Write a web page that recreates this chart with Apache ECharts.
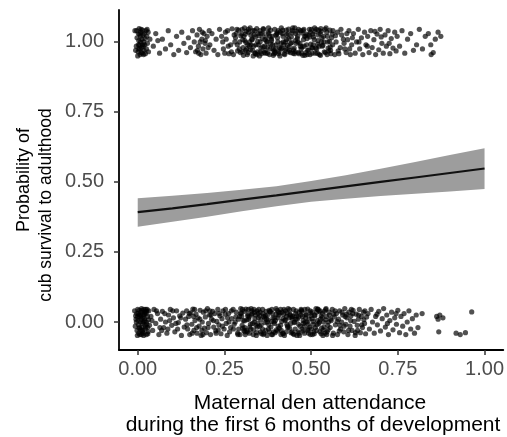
<!DOCTYPE html>
<html>
<head>
<meta charset="utf-8">
<script src="https://cdn.jsdelivr.net/npm/echarts@6/dist/echarts.min.js"></script>
<style>
  html, body { margin: 0; padding: 0; background: #fff; }
  #chart { width: 507px; height: 437px; }
</style>
</head>
<body>
<div id="chart"></div>
<script>
// Cubs that survived to adulthood (outcome = 1), jittered vertically: [attendance, jittered outcome]
const survived = [
  [-0.008,1.04],[0.002,1.03],[0.005,0.99],[0.001,0.965],[0.010,1.045],[0.012,1.01],[-0.004,0.985],[0.007,0.955],[0.015,1.025],[0.003,1.005],
  [0.018,0.97],[0.009,1.035],[-0.002,1.015],[0.020,0.99],[0.006,0.975],[0.013,0.96],[0.024,1.04],[0.000,0.95],[0.017,1.0],[0.011,0.98],
  [0.026,1.02],[0.004,1.048],[0.022,0.958],[0.028,0.995],[0.014,1.042],[-0.006,0.97],[0.008,1.02],[0.031,0.965],[0.019,1.03],[0.002,0.99],
  [0.035,1.01],[0.025,0.975],[0.010,0.962],[0.016,0.985],[0.030,1.035],
  [0.003,0.975],[0.008,1.0],[0.014,0.99],[0.021,1.012],[-0.003,1.04],[0.017,0.955],[0.027,1.045],[0.006,1.028],
  [0.045,0.985],[0.052,1.03],[0.063,0.96],[0.071,1.01],[0.080,0.975],[0.088,1.04],[0.095,0.99],[0.104,0.955],[0.112,1.02],[0.118,0.97],
  [0.127,1.035],[0.133,0.995],[0.141,0.962],[0.146,1.015],[0.058,1.005],
  [0.152,0.98],[0.158,1.04],[0.163,1.0],[0.167,0.965],[0.171,1.025],[0.175,0.985],[0.178,1.045],[0.182,0.955],[0.185,1.01],[0.188,0.975],
  [0.191,1.03],[0.194,0.995],[0.197,0.96],[0.200,1.02],[0.203,0.98],[0.206,1.04],[0.180,1.0],[0.172,0.97],[0.195,1.005],[0.186,1.035],
  [0.176,0.96],[0.208,0.99],
  [0.214,1.03],[0.220,0.97],[0.226,1.01],[0.231,0.955],[0.236,1.045],
  [0.242,1.02],[0.251,0.96],[0.259,1.04],[0.268,0.99],[0.276,0.955],[0.284,1.03],[0.293,0.975],[0.301,1.045],[0.309,1.005],[0.318,0.962],
  [0.326,1.025],[0.334,0.985],[0.343,1.048],[0.351,0.95],[0.359,1.012],[0.368,0.97],[0.376,1.035],[0.384,0.992],[0.393,0.958],[0.401,1.028],
  [0.409,0.98],[0.418,1.042],[0.426,1.0],[0.434,0.965],[0.443,1.018],[0.451,0.978],[0.459,1.038],[0.468,0.995],[0.476,0.952],[0.484,1.022],
  [0.493,0.972],[0.501,1.045],[0.509,1.008],[0.518,0.96],[0.526,1.03],[0.534,0.988],[0.543,1.05],[0.551,0.968],[0.559,1.015],[0.568,0.955],
  [0.576,1.035],[0.584,0.98],[0.593,1.01],[0.601,0.962],[0.609,1.04],[0.617,0.99],
  [0.247,0.975],[0.255,1.01],[0.263,0.958],[0.272,1.047],[0.280,1.0],[0.288,0.968],[0.297,1.022],[0.305,0.952],[0.313,1.038],[0.322,0.985],
  [0.330,1.008],[0.338,0.96],[0.347,1.03],[0.355,0.978],[0.363,1.045],[0.372,1.002],[0.380,0.955],[0.388,1.02],[0.397,0.975],[0.405,1.04],
  [0.413,0.995],[0.422,0.958],[0.430,1.025],[0.438,0.97],[0.447,1.05],[0.455,1.005],[0.463,0.962],[0.472,1.032],[0.480,0.985],[0.488,1.012],
  [0.497,0.955],[0.505,1.028],[0.513,0.978],[0.522,1.042],[0.530,1.0],[0.538,0.965],[0.547,1.02],[0.555,0.982],[0.563,1.04],[0.572,1.0],
  [0.580,0.958],[0.588,1.025],[0.597,0.975],[0.605,1.008],[0.613,0.955],
  [0.282,1.015],[0.287,0.99],[0.291,1.042],[0.296,0.962],[0.300,1.028],[0.304,0.98],[0.308,1.05],[0.312,0.998],[0.316,0.955],[0.320,1.035],
  [0.325,0.972],[0.329,1.01],[0.333,0.95],[0.337,1.04],[0.341,0.99],[0.345,0.965],[0.349,1.022],[0.353,1.0],[0.357,0.958],[0.362,1.048],
  [0.366,0.985],[0.370,1.018],[0.374,0.96],[0.378,1.03],[0.382,0.975],[0.386,1.005],[0.391,0.952],[0.395,1.045],[0.399,0.99],[0.403,1.015],
  [0.407,0.965],[0.411,1.035],[0.415,0.978],[0.420,1.0],[0.424,0.955],[0.428,1.042],[0.432,0.988],[0.436,1.012],[0.440,0.962],[0.445,1.032],
  [0.449,0.972],[0.453,1.05],[0.457,0.995],[0.461,1.02],[0.465,0.958],[0.470,1.04],[0.474,0.982],[0.478,1.008],[0.482,0.952],[0.486,1.028],
  [0.490,0.97],[0.495,1.045],[0.499,0.992],[0.503,0.96],[0.507,1.018],[0.511,1.036],[0.516,0.975],[0.520,1.005],[0.524,0.955],[0.528,1.048],
  [0.532,0.985],[0.536,1.02],[0.541,0.962],[0.545,1.035],[0.549,0.978],[0.553,1.002],[0.557,0.958],[0.561,1.028],
  [0.303,1.008],[0.311,0.97],[0.319,1.045],[0.327,0.99],[0.335,1.025],[0.344,0.955],[0.352,1.04],[0.361,0.982],[0.369,0.96],[0.377,1.05],
  [0.385,1.01],[0.394,0.968],[0.402,1.032],[0.410,0.95],[0.419,1.02],[0.427,0.975],[0.435,1.046],[0.444,0.998],[0.452,0.958],[0.460,1.012],
  [0.469,0.985],[0.477,1.04],[0.485,0.962],[0.494,1.025],[0.502,0.98],[0.510,1.05],[0.519,0.992],[0.527,0.952],
  [0.245,1.0],[0.253,1.035],[0.261,0.985],[0.270,0.965],[0.278,1.025],[0.286,1.045],[0.294,1.0],[0.302,0.965],[0.310,1.028],[0.317,0.99],
  [0.324,1.05],[0.331,0.97],[0.339,1.018],[0.346,1.002],[0.354,0.965],[0.361,1.03],[0.367,1.008],[0.375,0.982],[0.383,1.042],[0.390,0.975],
  [0.398,1.025],[0.406,0.958],[0.414,1.05],[0.421,0.99],[0.429,1.008],[0.437,0.982],[0.446,1.04],[0.454,0.965],[0.462,1.0],[0.471,0.975],
  [0.479,1.045],[0.487,0.99],[0.496,1.018],[0.504,0.978],[0.512,0.96],[0.521,1.025],[0.529,1.038],[0.537,1.0],[0.546,0.955],[0.554,1.042],
  [0.562,0.99],[0.570,1.022],[0.578,0.968],[0.586,1.045],[0.595,0.995],[0.603,1.03],[0.611,0.975],[0.619,1.015],
  [0.306,1.02],[0.314,0.975],[0.323,1.0],[0.332,1.04],[0.340,0.958],[0.348,0.99],[0.356,1.03],[0.365,0.962],[0.373,1.0],[0.381,1.02],
  [0.389,0.99],[0.396,0.962],[0.404,1.0],[0.412,0.975],[0.417,1.03],[0.425,0.97],[0.433,1.03],[0.441,0.995],[0.448,0.96],[0.456,1.03],
  [0.464,1.045],[0.473,0.96],[0.481,1.02],[0.489,0.955],[0.498,1.035],[0.506,0.99],[0.515,1.045],[0.523,0.985],[0.531,1.015],[0.540,1.045],
  [0.548,1.0],[0.556,0.97],
  [0.622,1.03],[0.627,0.96],[0.631,1.0],[0.636,1.045],[0.640,0.975],[0.645,1.015],[0.649,0.955],[0.654,1.035],[0.658,0.99],[0.663,1.02],
  [0.667,0.962],[0.672,1.04],[0.676,0.98],[0.681,1.008],[0.686,0.955],[0.690,1.028],[0.695,0.972],[0.699,1.045],[0.704,0.995],[0.708,0.96],
  [0.713,1.025],[0.717,0.985],[0.722,1.04],[0.727,0.958],[0.731,1.012],[0.736,0.978],[0.741,1.035],[0.745,0.968],[0.638,1.0],[0.662,0.985],
  [0.684,1.038],[0.702,1.018],[0.725,0.995],[0.748,1.02],
  [0.755,0.985],[0.762,1.04],[0.770,0.96],[0.778,1.01],[0.787,1.03],[0.795,0.97],[0.804,0.99],[0.812,1.045],[0.821,0.975],[0.829,1.02],
  [0.838,1.03],[0.845,0.99],[0.852,0.962],[0.858,1.01],[0.866,1.035],[0.874,1.02],[0.846,0.955]
];

// Cubs that did not survive (outcome = 0), jittered vertically
const died = [
  [-0.009,0.04],[-0.005,0.01],[-0.002,-0.03],[0.000,0.045],[0.002,-0.01],[0.004,0.025],[0.006,-0.045],[0.008,0.0],[0.010,0.035],[0.012,-0.02],
  [0.014,0.015],[0.016,-0.04],[0.018,0.045],[0.020,0.005],[0.022,-0.025],[0.024,0.03],[0.026,-0.008],[0.028,0.02],[0.030,-0.035],[0.032,0.04],
  [-0.007,-0.015],[-0.003,0.03],[0.001,0.005],[0.003,-0.04],[0.005,0.042],[0.007,0.018],[0.009,-0.028],[0.011,0.048],[0.013,-0.005],[0.015,0.028],
  [0.017,-0.048],[0.019,0.012],[0.021,0.038],[0.023,-0.018],[0.025,0.0],[0.027,0.045],[0.029,-0.042],[0.031,0.008],[0.034,-0.012],[-0.006,0.022],
  [-0.001,-0.048],[0.004,-0.022],[0.010,0.01],[0.015,-0.03],[0.020,0.032],[0.025,-0.045],[0.000,0.018],[0.012,0.042],
  [0.002,0.03],[0.006,-0.02],[0.011,-0.045],[0.016,0.0],[0.021,-0.01],[0.026,0.038],[-0.004,0.0],[0.008,0.025],[0.013,-0.035],[0.018,0.025],
  [0.023,0.045],[0.029,-0.02],
  [0.038,0.02],[0.043,-0.03],[0.047,0.045],[0.052,-0.005],[0.057,0.03],[0.061,-0.045],[0.066,0.01],[0.071,0.038],[0.075,-0.02],[0.080,0.0],
  [0.084,-0.04],[0.089,0.025],[0.094,0.045],[0.098,-0.012],[0.103,0.015],[0.107,-0.035],[0.112,0.04],[0.117,-0.002],[0.121,0.022],[0.126,-0.048],
  [0.130,0.032],[0.134,-0.018],[0.069,-0.03],[0.092,0.005],[0.115,-0.025],
  [0.041,0.005],[0.054,0.04],[0.064,-0.02],[0.078,0.03],[0.087,-0.025],[0.101,0.04],[0.110,-0.005],[0.124,0.015],
  [0.138,0.01],[0.141,0.04],[0.144,-0.025],[0.147,0.02],[0.150,-0.045],[0.153,0.033],[0.156,-0.008],[0.159,0.046],[0.162,-0.03],[0.165,0.005],
  [0.168,0.028],[0.171,-0.04],[0.174,0.015],[0.177,-0.015],[0.180,0.042],[0.183,-0.048],[0.186,0.0],[0.189,0.035],[0.192,-0.022],[0.195,0.018],
  [0.198,-0.038],[0.201,0.048],[0.204,-0.005],[0.207,0.025],[0.210,-0.045],[0.213,0.01],[0.216,0.038],[0.219,-0.018],[0.222,0.03],[0.225,-0.032],
  [0.228,0.002],[0.231,0.045],[0.234,-0.01],[0.237,0.022],[0.240,-0.042],[0.243,0.012],[0.246,0.04],[0.249,-0.025],[0.252,0.028],[0.255,-0.005],
  [0.258,-0.048],[0.161,0.02],[0.185,-0.03],[0.208,0.04],[0.232,-0.028],
  [0.142,-0.01],[0.149,0.03],[0.157,-0.04],[0.164,0.045],[0.170,-0.02],[0.179,0.01],[0.188,-0.045],[0.196,0.04],[0.203,-0.02],[0.211,0.025],
  [0.218,0.005],[0.226,-0.04],[0.235,0.03],[0.244,-0.015],[0.253,0.045],[0.259,0.015],
  [0.262,0.03],[0.268,-0.02],[0.275,0.045],[0.281,0.0],[0.288,-0.04],[0.294,0.02],[0.301,-0.012],[0.307,0.038],[0.314,-0.03],[0.320,0.01],
  [0.327,0.048],[0.333,-0.045],[0.340,0.025],[0.346,-0.005],[0.353,0.035],[0.360,-0.025],[0.366,0.015],[0.373,-0.048],[0.379,0.042],[0.386,0.002],
  [0.392,-0.035],[0.399,0.028],[0.405,-0.015],[0.412,0.045],[0.418,-0.04],[0.425,0.008],[0.431,0.032],[0.438,-0.022],[0.444,0.018],[0.451,-0.045],
  [0.457,0.04],[0.464,-0.008],[0.470,0.025],[0.477,-0.032],[0.483,0.0],[0.490,0.046],[0.496,-0.018],[0.503,0.012],[0.509,-0.042],[0.516,0.035],
  [0.522,-0.005],[0.529,0.022],[0.535,-0.028],[0.542,0.044],[0.548,-0.012],
  [0.265,-0.035],[0.271,0.012],[0.278,-0.008],[0.284,0.035],[0.291,-0.025],[0.297,0.048],[0.304,0.005],[0.310,-0.045],[0.317,0.022],[0.323,-0.018],
  [0.330,0.03],[0.336,0.0],[0.343,-0.038],[0.349,0.045],[0.356,-0.01],[0.363,0.02],[0.369,-0.03],[0.376,0.008],[0.382,0.036],[0.389,-0.045],
  [0.395,0.015],[0.402,0.042],[0.408,-0.022],[0.415,0.002],[0.421,0.028],[0.428,-0.035],[0.434,0.048],[0.441,-0.005],[0.447,0.02],[0.454,-0.025],
  [0.460,0.01],[0.467,-0.048],[0.473,0.038],[0.480,-0.015],[0.486,0.025],[0.493,-0.04],[0.499,0.032],[0.506,0.002],[0.512,-0.02],[0.519,0.045],
  [0.525,-0.035],[0.532,0.015],[0.538,0.038],[0.545,-0.045],
  [0.290,0.01],[0.295,-0.045],[0.299,0.032],[0.303,-0.022],[0.308,0.004],[0.312,0.046],[0.316,-0.035],[0.321,0.018],[0.325,-0.008],[0.329,0.04],
  [0.334,-0.028],[0.338,0.012],[0.342,-0.048],[0.347,0.03],[0.351,-0.015],[0.355,0.008],[0.360,0.045],[0.364,-0.04],[0.368,0.022],[0.373,0.0],
  [0.377,-0.025],[0.381,0.038],[0.386,-0.045],[0.390,0.015],[0.394,-0.005],[0.399,0.048],[0.403,-0.032],[0.407,0.025],[0.412,-0.012],[0.416,0.035],
  [0.420,-0.042],[0.425,0.005],[0.429,0.02],[0.433,-0.02],[0.438,0.044],[0.442,-0.038],[0.446,0.012],[0.451,-0.002],[0.455,0.03],[0.459,-0.048],
  [0.464,0.018],[0.468,-0.015],[0.472,0.042],[0.477,0.005],[0.481,-0.04],[0.485,0.028],[0.490,-0.025],[0.494,0.01],[0.498,-0.045],[0.503,0.036],
  [0.507,-0.008],[0.511,0.022],[0.516,-0.03],[0.520,0.046],[0.524,0.0],[0.529,-0.042],[0.533,0.03],[0.537,-0.018],[0.542,0.008],[0.546,-0.035],
  [0.306,-0.03],[0.318,0.028],[0.331,-0.005],[0.344,0.04],[0.357,-0.042],[0.370,0.038],[0.384,-0.018],[0.397,0.005],[0.410,0.032],[0.423,-0.048],
  [0.436,0.015],[0.449,0.045],[0.462,-0.035],[0.475,0.02],[0.488,0.0],[0.501,-0.025],[0.514,0.048],[0.527,0.01],[0.540,-0.04],[0.553,0.025],
  [0.263,0.0],[0.270,0.04],[0.276,-0.025],[0.283,0.018],[0.289,-0.045],[0.296,0.03],[0.302,0.045],[0.309,-0.02],[0.315,0.008],[0.322,-0.04],
  [0.328,0.025],[0.335,0.045],[0.341,-0.012],[0.348,0.015],[0.354,-0.035],[0.361,0.03],[0.367,-0.002],[0.374,0.025],[0.380,-0.035],[0.387,0.045],
  [0.393,0.0],[0.400,-0.028],[0.406,0.035],[0.413,-0.045],[0.419,0.012],[0.426,0.04],[0.432,-0.015],[0.439,0.028],[0.445,-0.035],[0.452,0.0],
  [0.458,0.022],[0.465,-0.04],[0.471,0.045],[0.478,-0.005],[0.484,0.015],[0.491,-0.03],[0.497,0.04],[0.504,-0.045],[0.510,0.025],[0.517,-0.01],
  [0.523,0.038],[0.530,-0.022],[0.536,0.0],[0.543,0.048],[0.549,-0.028],[0.556,0.01],[0.562,-0.048],[0.569,0.04],[0.575,0.002],[0.581,-0.032],
  [0.589,0.035],[0.595,-0.015],[0.602,0.028],[0.608,-0.03],[0.614,0.005],[0.620,0.03],[0.628,-0.038],[0.637,0.025],[0.646,-0.01],[0.655,0.04],
  [0.300,0.02],[0.309,-0.035],[0.319,0.045],[0.326,-0.025],[0.337,0.035],[0.345,-0.018],[0.352,0.022],[0.362,-0.045],[0.371,0.01],[0.378,-0.01],
  [0.388,0.03],[0.396,-0.038],[0.404,0.015],[0.414,-0.03],[0.422,0.045],[0.430,-0.008],[0.440,0.025],[0.448,-0.042],[0.456,0.01],[0.466,0.035],
  [0.474,-0.025],[0.482,0.045],[0.492,-0.008],[0.500,0.022],[0.508,-0.035],[0.518,0.005],[0.526,0.04],[0.534,-0.048],[0.544,0.02],[0.550,0.0],
  [0.552,0.035],[0.555,-0.02],[0.558,0.005],[0.561,0.045],[0.564,-0.04],[0.567,0.018],[0.570,-0.01],[0.573,0.03],[0.576,-0.045],[0.579,0.01],
  [0.582,0.04],[0.585,-0.025],[0.588,0.0],[0.591,0.025],[0.594,-0.035],[0.597,0.048],[0.600,-0.008],[0.603,0.015],[0.606,-0.045],[0.609,0.035],
  [0.612,-0.015],[0.615,0.022],[0.618,-0.03],[0.621,0.042],[0.624,0.002],[0.627,-0.048],[0.630,0.028],[0.633,-0.012],[0.636,0.01],[0.639,0.045],
  [0.642,-0.038],[0.645,0.02],[0.648,-0.02],[0.651,0.035],[0.654,-0.005],[0.657,-0.042],[0.660,0.018],[0.565,0.028],[0.583,-0.012],[0.598,0.02],
  [0.616,0.045],[0.634,-0.03],[0.652,0.008],
  [0.664,0.03],[0.668,-0.025],[0.673,0.045],[0.677,0.0],[0.682,-0.04],[0.686,0.02],[0.691,-0.01],[0.695,0.038],[0.700,-0.032],[0.705,0.012],
  [0.709,0.048],[0.714,-0.018],[0.718,0.025],[0.723,-0.045],[0.727,0.005],[0.732,0.035],[0.736,-0.028],[0.741,0.015],[0.746,-0.008],[0.750,0.042],
  [0.755,-0.038],[0.759,0.02],[0.764,-0.015],[0.768,0.03],[0.773,-0.045],[0.777,0.0],[0.782,0.04],[0.787,-0.025],[0.792,0.012],[0.798,-0.04],
  [0.803,0.025],[0.808,-0.02],[0.690,0.028],[0.720,-0.005],[0.745,0.03],[0.820,0.03],
  [0.862,0.02],[0.866,0.01],[0.871,0.025],[0.868,-0.035],[0.880,0.015],[0.918,-0.04],[0.930,-0.045],[0.945,-0.038],[0.963,0.036]
];

// Fitted survival probability with its 95% confidence band
const fitX     = [0.0, 0.1, 0.2, 0.3, 0.4, 0.5, 0.6, 0.7, 0.8, 0.9, 1.0];
const fitProb  = [0.392, 0.406, 0.421, 0.437, 0.452, 0.468, 0.484, 0.500, 0.516, 0.532, 0.548];
const fitLower = [0.340, 0.358, 0.376, 0.395, 0.413, 0.429, 0.440, 0.450, 0.458, 0.466, 0.475];
const fitUpper = [0.442, 0.451, 0.461, 0.472, 0.485, 0.503, 0.524, 0.547, 0.571, 0.596, 0.620];

// Tick positions shared by both axes
const tickValues = [0, 0.25, 0.5, 0.75, 1];

const xTitle = ['Maternal den attendance', 'during the first 6 months of development'];
const yTitle = ['Probability of', 'cub survival to adulthood'];

const FONT = '"Liberation Sans", Arial, Helvetica, sans-serif';

const chart = echarts.init(document.getElementById('chart'), null, { renderer: 'canvas' });

const fitLine = fitX.map((x, i) => [x, fitProb[i]]);
const bandPoly = fitX.map((x, i) => [x, fitLower[i], fitUpper[i]]);

const axisCommon = {
  type: 'value',
  splitLine: { show: false },
  axisLine: { show: true, onZero: false, lineStyle: { color: '#000', width: 1.8 } },
  axisTick: { show: true, length: 5, customValues: tickValues, lineStyle: { color: '#333', width: 1.5 } },
  axisLabel: {
    customValues: tickValues,
    formatter: v => v.toFixed(2),
    color: '#4d4d4d',
    fontFamily: FONT,
    fontSize: 20
  }
};

const pointStyle = { color: 'rgba(0,0,0,0.85)' };

chart.setOption({
  animation: false,
  backgroundColor: '#ffffff',
  grid: { left: 119, top: 10, width: 388, height: 340, containLabel: false },
  xAxis: Object.assign({}, axisCommon, {
    min: -0.054, max: 1.054,
    axisLabel: Object.assign({}, axisCommon.axisLabel, { margin: 9 })
  }),
  yAxis: Object.assign({}, axisCommon, {
    min: -0.1, max: 1.114,
    axisLabel: Object.assign({}, axisCommon.axisLabel, { margin: 15 })
  }),
  series: [
    { type: 'scatter', data: survived, symbolSize: 5.2, itemStyle: pointStyle, silent: true },
    { type: 'scatter', data: died, symbolSize: 5.2, itemStyle: pointStyle, silent: true },
    {
      // confidence band drawn as one polygon through the axis scales
      type: 'custom',
      data: [0],
      silent: true,
      renderItem: (params, api) => {
        const upper = bandPoly.map(d => api.coord([d[0], d[2]]));
        const lower = bandPoly.slice().reverse().map(d => api.coord([d[0], d[1]]));
        return {
          type: 'polygon',
          shape: { points: upper.concat(lower) },
          style: { fill: '#9d9d9d' }
        };
      },
      z: 3
    },
    {
      type: 'line',
      data: fitLine,
      showSymbol: false,
      lineStyle: { color: '#111', width: 2.2 },
      silent: true,
      z: 4
    }
  ],
  // Axis titles, two lines each
  graphic: [
    { type: 'text', x: 310, y: 403, style: { text: xTitle[0], font: '21px ' + FONT, fill: '#000', align: 'center', verticalAlign: 'middle' } },
    { type: 'text', x: 313, y: 425, style: { text: xTitle[1], font: '21px ' + FONT, fill: '#000', align: 'center', verticalAlign: 'middle' } },
    { type: 'text', x: 24, y: 180, rotation: Math.PI / 2, style: { text: yTitle[0], font: '18px ' + FONT, fill: '#000', align: 'center', verticalAlign: 'middle' } },
    { type: 'text', x: 46, y: 205, rotation: Math.PI / 2, style: { text: yTitle[1], font: '17.5px ' + FONT, fill: '#000', align: 'center', verticalAlign: 'middle' } }
  ]
});
</script>
</body>
</html>
